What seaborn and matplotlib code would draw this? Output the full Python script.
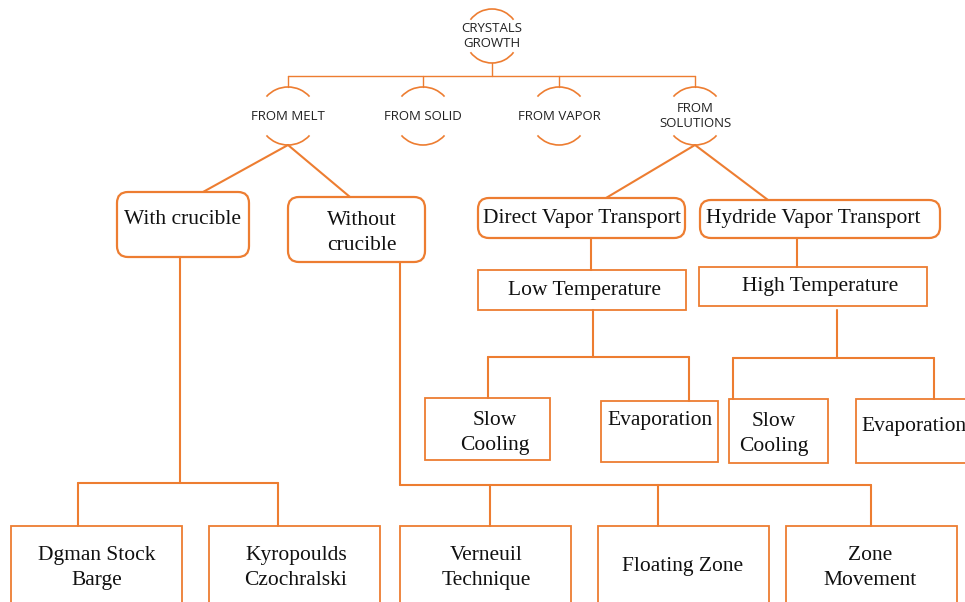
import matplotlib
matplotlib.use("Agg")
import matplotlib.pyplot as plt
from matplotlib.patches import Arc, FancyBboxPatch, Rectangle
import pandas as pd
import seaborn as sns

# Node labels of the tree
root_label = "CRYSTALS\nGROWTH"
source_labels = ["FROM MELT", "FROM SOLID", "FROM VAPOR", "FROM\nSOLUTIONS"]
melt_labels = ["With crucible", "Without\ncrucible"]
solution_labels = ["Direct Vapor Transport", "Hydride Vapor Transport"]
temperature_labels = ["Low Temperature", "High Temperature"]
solution_methods = ["Slow\nCooling", "Evaporation", "Slow\nCooling", "Evaporation"]
crucible_methods = ["Dgman Stock\nBarge", "Kyropoulds\nCzochralski"]
no_crucible_methods = ["Verneuil\nTechnique", "Floating Zone", "Zone\nMovement"]

ORANGE = "#ED7D31"
SERIF = "Liberation Serif"
SANS = "Open Sans"

# Layout in pixel units (x0, y0, x1, y1) and text centres
root_pos = (492, 36, 27)
source_x = [288, 423, 559, 695]
source_y, source_r = 116, 29
melt_boxes = [(117, 192, 249, 257), (288, 197, 425, 262)]
melt_text = [(183, 219), (362, 233)]
solution_boxes = [(478, 198, 685, 238), (700, 200, 940, 238)]
solution_text = [(582, 219), (813, 219)]
temp_boxes = [(478, 270, 686, 310), (699, 267, 927, 306)]
temp_text = [(585, 291), (820, 287)]
method_boxes = [(425, 398, 550, 460), (601, 401, 718, 462),
                (729, 399, 828, 463), (856, 399, 975, 463)]
method_text = [(495, 433), (660, 421), (774, 434), (914, 426)]
bottom_boxes = [(11, 526, 182, 615), (209, 526, 380, 615), (400, 526, 571, 615),
                (598, 526, 769, 615), (786, 526, 957, 615)]
bottom_text = [(97, 568), (296, 568), (486, 568), (683, 567), (870, 568)]

sns.set_theme(style="white")

fig = plt.figure(figsize=(9.65, 6.02), dpi=100)
ax = fig.add_axes([0, 0, 1, 1])
ax.set_xlim(0, 965)
ax.set_ylim(602, 0)

# connector segments
segs = []


def add_line(points, width):
    sid = len(segs)
    for x, y in points:
        segs.append({"seg": sid, "x": x, "y": y, "w": width})


def elbow(px, y0, bus, xs, tops, width):
    add_line([(px, y0), (px, bus)], width)
    add_line([(min(xs + [px]), bus), (max(xs + [px]), bus)], width)
    for x, t in zip(xs, tops):
        add_line([(x, bus), (x, t)], width)


rx, ry, rr = root_pos
elbow(rx, ry + rr, 76, source_x, [source_y - source_r] * 4, "thin")
mx, sx = source_x[0], source_x[3]
bot = source_y + source_r
add_line([(mx, bot), (203, melt_boxes[0][1])], "thick")
add_line([(mx, bot), (350, melt_boxes[1][1])], "thick")
add_line([(sx, bot), (606, solution_boxes[0][1])], "thick")
add_line([(sx, bot), (768, solution_boxes[1][1])], "thick")
elbow(180, melt_boxes[0][3], 483, [78, 278], [526, 526], "thick")
elbow(400, melt_boxes[1][3], 485, [490, 658, 871], [526] * 3, "thick")
add_line([(591, solution_boxes[0][3]), (591, temp_boxes[0][1])], "thick")
add_line([(797, solution_boxes[1][3]), (797, temp_boxes[1][1])], "thick")
elbow(593, temp_boxes[0][3], 357, [488, 689], [398, 401], "thick")
elbow(837, 310, 358, [733, 934], [399, 399], "thick")

df = pd.DataFrame(segs)
for w, lw in [("thin", 1.0), ("thick", 1.5)]:
    sns.lineplot(data=df[df.w == w], x="x", y="y", units="seg", estimator=None,
                 sort=False, color=ORANGE, lw=lw, ax=ax, legend=False)


def circle_node(cx, cy, r, half, text, size):
    d = 2 * r
    ax.add_patch(Arc((cx, cy), d, d, theta1=90 - half, theta2=90 + half,
                     color=ORANGE, lw=1.2))
    ax.add_patch(Arc((cx, cy), d, d, theta1=270 - half, theta2=270 + half,
                     color=ORANGE, lw=1.2))
    ax.text(cx, cy, text, ha="center", va="center", fontsize=size,
            family=SANS, color="#222222", linespacing=1.15)


def box_node(b, t, label, rounded):
    x0, y0, x1, y1 = b
    if rounded:
        p = FancyBboxPatch((x0, y0), x1 - x0, y1 - y0,
                           boxstyle="round,pad=0,rounding_size=11",
                           fc="white", ec=ORANGE, lw=1.6)
    else:
        p = Rectangle((x0, y0), x1 - x0, y1 - y0, fc="white", ec=ORANGE, lw=1.3)
    ax.add_patch(p)
    ax.text(t[0], t[1], label, ha="center", va="center", fontsize=15.5,
            family=SERIF, color="#111111", linespacing=1.45)


circle_node(rx, ry, rr, 53, root_label, 9.5)
for x, lab in zip(source_x, source_labels):
    circle_node(x, source_y, source_r, 48, lab, 9.5)

for b, t, lab in zip(melt_boxes, melt_text, melt_labels):
    box_node(b, t, lab, True)
for b, t, lab in zip(solution_boxes, solution_text, solution_labels):
    box_node(b, t, lab, True)
for b, t, lab in zip(temp_boxes, temp_text, temperature_labels):
    box_node(b, t, lab, False)
for b, t, lab in zip(method_boxes, method_text, solution_methods):
    box_node(b, t, lab, False)
for b, t, lab in zip(bottom_boxes, bottom_text, crucible_methods + no_crucible_methods):
    box_node(b, t, lab, False)

ax.axis("off")
fig.savefig("out.png", dpi=100)
